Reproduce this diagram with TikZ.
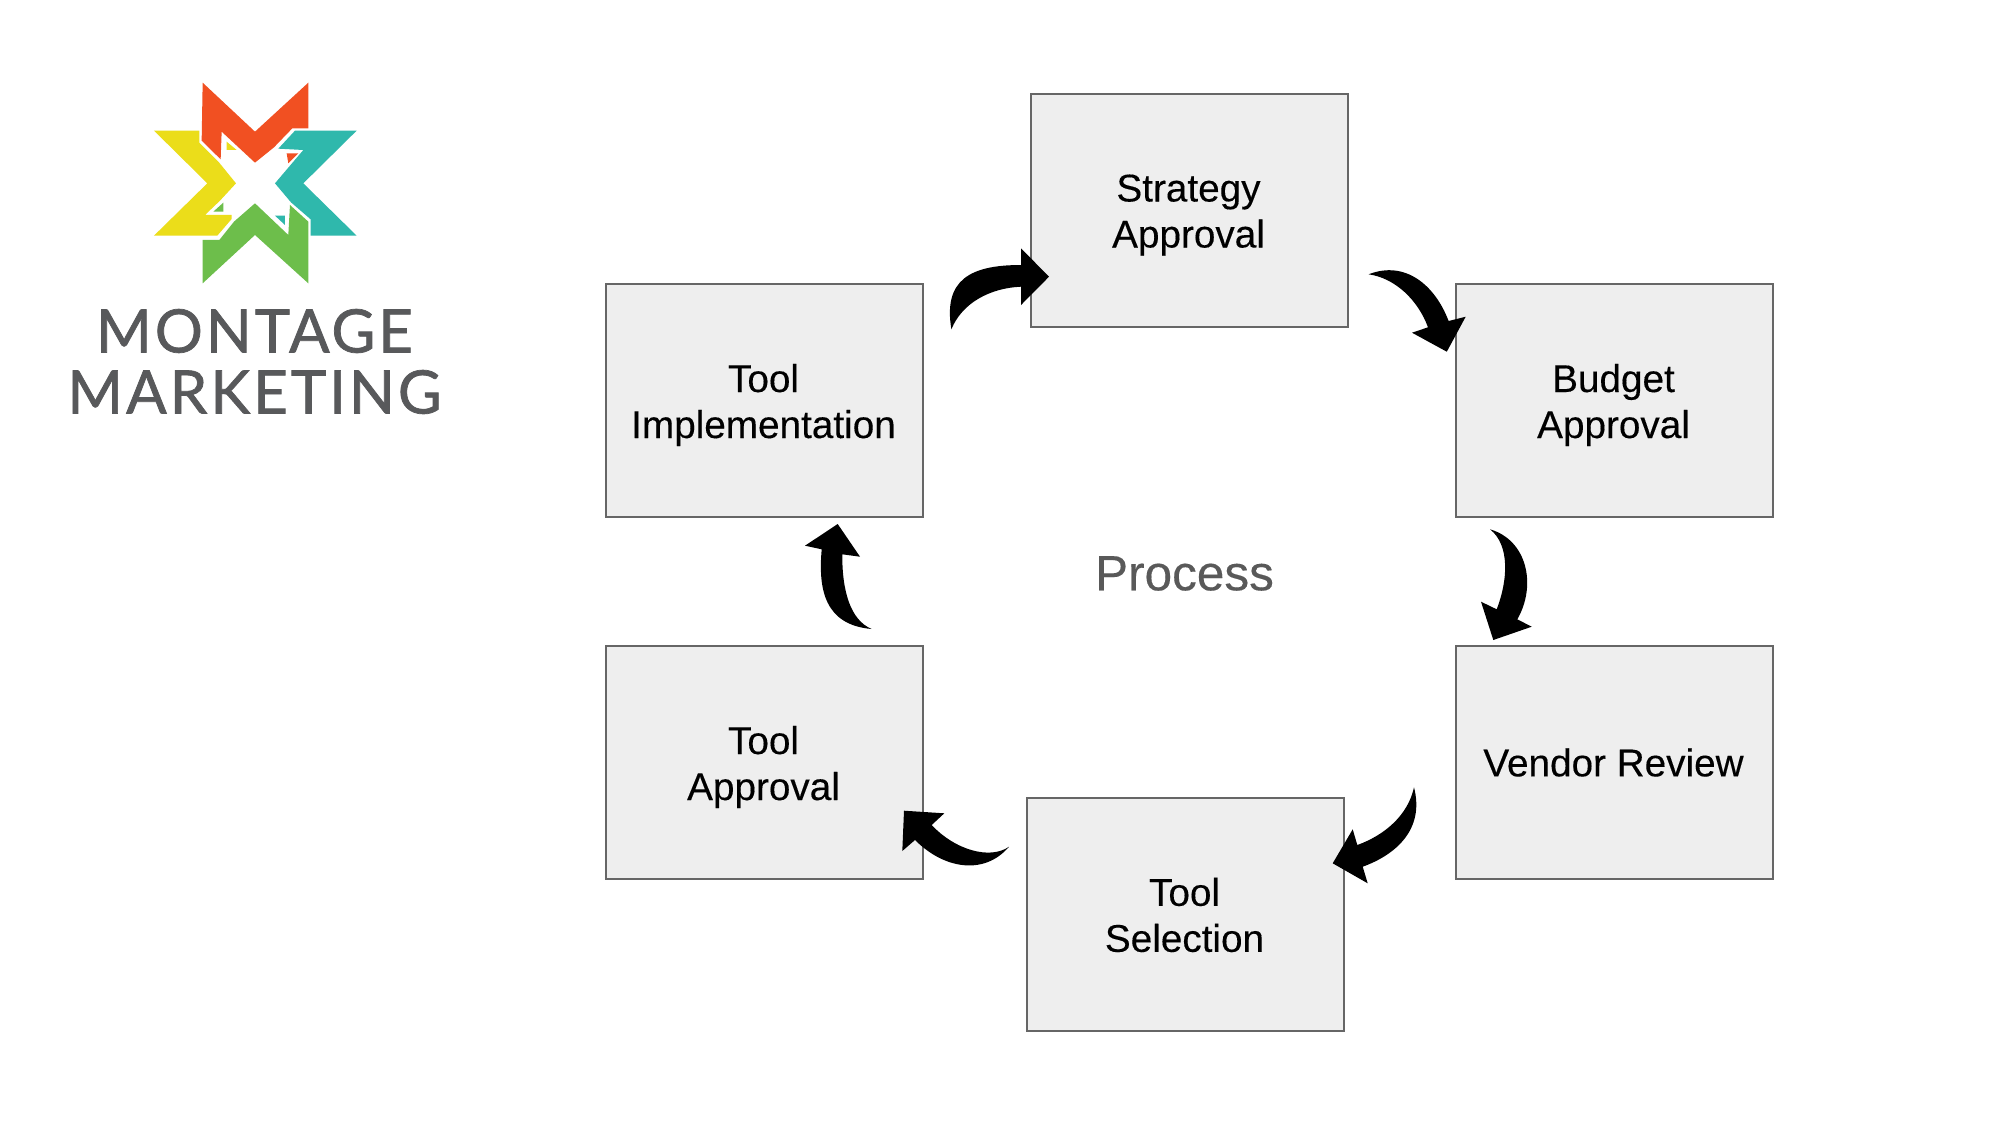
\documentclass[tikz,border=0pt]{standalone}
\usepackage{fontspec}
\setmainfont[FakeBold=0.25]{Liberation Sans}
\newfontfamily\logofont[LetterSpace=5,FakeBold=1.2]{Lato}
\definecolor{boxfill}{HTML}{EEEEEE}
\definecolor{boxline}{HTML}{666666}
\definecolor{proc}{HTML}{595959}
\definecolor{logotext}{HTML}{58595B}
\definecolor{lred}{HTML}{F15022}
\definecolor{lyellow}{HTML}{EBDD1A}
\definecolor{lteal}{HTML}{2FB8AC}
\definecolor{lgreen}{HTML}{6DBE4B}
\tikzset{
  stagebox/.style={draw=boxline,line width=2pt,fill=boxfill,minimum width=317pt,minimum height=233pt,inner sep=0pt},
  stagetext/.style={align=center,font=\fontsize{38.7}{46}\selectfont,text=black,inner sep=0pt},
  blockarrow/.style={fill=black,draw=none},
  logoword/.style={text=logotext,inner sep=0pt,anchor=center},
}
\begin{document}
\begin{tikzpicture}[x=1pt,y=-1pt]
\useasboundingbox (0,0) rectangle (2000,1125);
\fill[white] (0,0) rectangle (2000,1125);

% logo star
\begin{scope}[shift={(130,70)},x=0.3333pt,y=-0.3333pt]
\fill[lred] (218,38)--(375,185)--(535,38)--(535,175)--(487,175)--(432,232)--(375,278)--(275,185)--(272,268)--(215,212)--cycle;
\fill[lred] (470,250)--(505,250)--(475,280)--cycle;
\fill[lyellow] (72,182)--(208,182)--(208,218)--(266,276)--(318,340)--(270,392)--(225,435)--(305,435)--(305,447)--(262,497)--(72,497)--(232,340)--cycle;
\fill[lyellow] (290,215)--(320,240)--(290,240)--cycle;
\fill[lteal] (680,182)--(520,340)--(680,497)--(542,497)--(542,448)--(483,397)--(435,340)--(520,240)--(445,236)--(495,182)--cycle;
\fill[lteal] (435,437)--(465,437)--(465,465)--cycle;
\fill[lgreen] (218,640)--(375,495)--(535,640)--(535,455)--(480,405)--(475,495)--(375,400)--(312,455)--(268,510)--(218,510)--cycle;
\fill[lgreen] (250,425)--(280,398)--(280,425)--cycle;
\end{scope}
\node[logoword,font=\fontsize{60}{60}\logofont] (logoa) at (254.5,331) {MONTAGE};
\node[logoword,font=\fontsize{60}{60}\logofont] (logob) at (254.5,392) {MARKETING};

% boxes
\node[stagebox] (strategy) at (1189.5,210) {};
\node[stagebox] (budget) at (1614.5,400) {};
\node[stagebox] (vendor) at (1614.5,762) {};
\node[stagebox] (selection) at (1185.5,914.5) {};
\node[stagebox] (approval) at (764.5,762) {};
\node[stagebox] (impl) at (764.5,400) {};
\node[stagetext] (tstrategy) at ([xshift=-1pt,yshift=-5pt]strategy.center) {Strategy\\Approval};
\node[stagetext] (tbudget) at ([xshift=-1pt,yshift=-5pt]budget.center) {Budget\\Approval};
\node[stagetext] (tvendor) at ([xshift=-1pt,yshift=-0.5pt]vendor.center) {Vendor Review};
\node[stagetext] (tselection) at ([xshift=-1pt,yshift=-0.5pt]selection.center) {Tool\\Selection};
\node[stagetext] (tapproval) at ([xshift=-1pt,yshift=-5pt]approval.center) {Tool\\Approval};
\node[stagetext] (timpl) at ([xshift=-1pt,yshift=-5pt]impl.center) {Tool\\Implementation};
\node[text=proc,font=\fontsize{49.5}{55}\selectfont,inner sep=0pt] (process) at (1184.5,573.5) {Process};

% curved block arrows
\fill[blockarrow] (951.4,329.3) .. controls (943,280) and (970,265) .. (1021,265) -- (1021,248.3) -- (1049,276.7) -- (1021,305) -- (1021,286.7) .. controls (990,288) and (962,303) .. (951.4,329.3) -- cycle;
\fill[blockarrow] (1368.6,274.3) .. controls (1405,260) and (1435,285) .. (1448.6,321) -- (1465.7,316.7) -- (1446.8,351.7) -- (1412,332.7) -- (1428,327.3) .. controls (1418,300) and (1395,278) .. (1368.6,274.3) -- cycle;
\fill[blockarrow] (1490,529.3) .. controls (1527,540) and (1537,585) .. (1517.3,619.3) -- (1531.7,626.7) -- (1493.3,640) -- (1481,601.7) -- (1496.7,609.3) .. controls (1508,580) and (1510,545) .. (1490,529.3) -- cycle;
\fill[blockarrow] (1414,787.3) .. controls (1425,830) and (1395,855) .. (1362.7,866.7) -- (1367.7,883.3) -- (1332.7,863.3) -- (1352.7,829.3) -- (1357.3,845) .. controls (1385,835) and (1408,815) .. (1414,787.3) -- cycle;
\fill[blockarrow] (1009,846.7) .. controls (985,875) and (945,870) .. (915,840) -- (902.3,851) -- (904,810.7) -- (944.3,813.3) -- (931.7,825) .. controls (955,850) and (990,860) .. (1009,846.7) -- cycle;
\fill[blockarrow] (871.7,629) .. controls (825,625) and (818,590) .. (821.7,549.3) -- (805,545.7) -- (837.7,524) -- (860,556.7) -- (842.3,554.3) .. controls (842,590) and (850,620) .. (871.7,629) -- cycle;
\end{tikzpicture}
\end{document}
